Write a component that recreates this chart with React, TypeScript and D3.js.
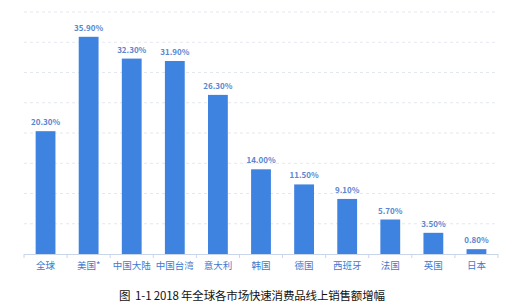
import React from "react";
import * as d3 from "d3";

const categories = ["全球", "美国*", "中国大陆", "中国台湾", "意大利", "韩国", "德国", "西班牙", "法国", "英国", "日本"];
const values = [20.3, 35.9, 32.3, 31.9, 26.3, 14.0, 11.5, 9.1, 5.7, 3.5, 0.8];
const gridTicks = [5, 10, 15, 20, 25, 30, 35, 40];
const title = "图  1-1 2018 年全球各市场快速消费品线上销售额增幅";

const W = 509;
const H = 304;
const left = 24;
const right = 498;
const top = 12;
const bottom = 254;

export default function App() {
  const x = d3.scaleBand<string>().domain(categories).range([left, right]).paddingInner(0.54).paddingOuter(0.27);
  const y = d3.scaleLinear().domain([0, 40]).range([bottom, top]);
  const font = "'Noto Sans CJK SC', 'Noto Sans', sans-serif";
  const boundaries = d3.range(categories.length + 1).map((i) => left + i * ((right - left) / categories.length));
  return (
    <svg width={W} height={H} style={{ position: "fixed", left: 0, top: 0, background: "#fff" }}>
      <rect width={W} height={H} fill="#fff" />
      {gridTicks.map((t) => (
        <line key={t} x1={left} x2={right} y1={y(t)} y2={y(t)} stroke="#e3e8ef" strokeDasharray="3,3" strokeWidth={1} />
      ))}
      {categories.map((c, i) => (
        <rect key={c} x={x(c)} y={y(values[i])} width={x.bandwidth()} height={bottom - y(values[i])} fill="#3f83e0" />
      ))}
      <line x1={left} x2={right} y1={bottom + 0.5} y2={bottom + 0.5} stroke="#c9d6ea" strokeWidth={1} />
      {boundaries.map((b, i) => (
        <line key={i} x1={b} x2={b} y1={bottom} y2={bottom + 4} stroke="#c9d6ea" strokeWidth={1} />
      ))}
      {categories.map((c, i) => (
        <text key={c} x={(x(c) as number) + x.bandwidth() / 2} y={y(values[i]) - 6} textAnchor="middle" fontSize={8} fontWeight="bold" fill="#5a86cf" fontFamily={font}>
          {values[i].toFixed(2) + "%"}
        </text>
      ))}
      {categories.map((c) => (
        <text key={c} x={(x(c) as number) + x.bandwidth() / 2} y={269} textAnchor="middle" fontSize={9.5} fill="#3f78cc" fontFamily={font}>
          {c}
        </text>
      ))}
      <text x={119} y={300} fontSize={11.5} fill="#111" fontFamily={font} xmlSpace="preserve" textLength={266} lengthAdjust="spacing">
        {title}
      </text>
    </svg>
  );
}
